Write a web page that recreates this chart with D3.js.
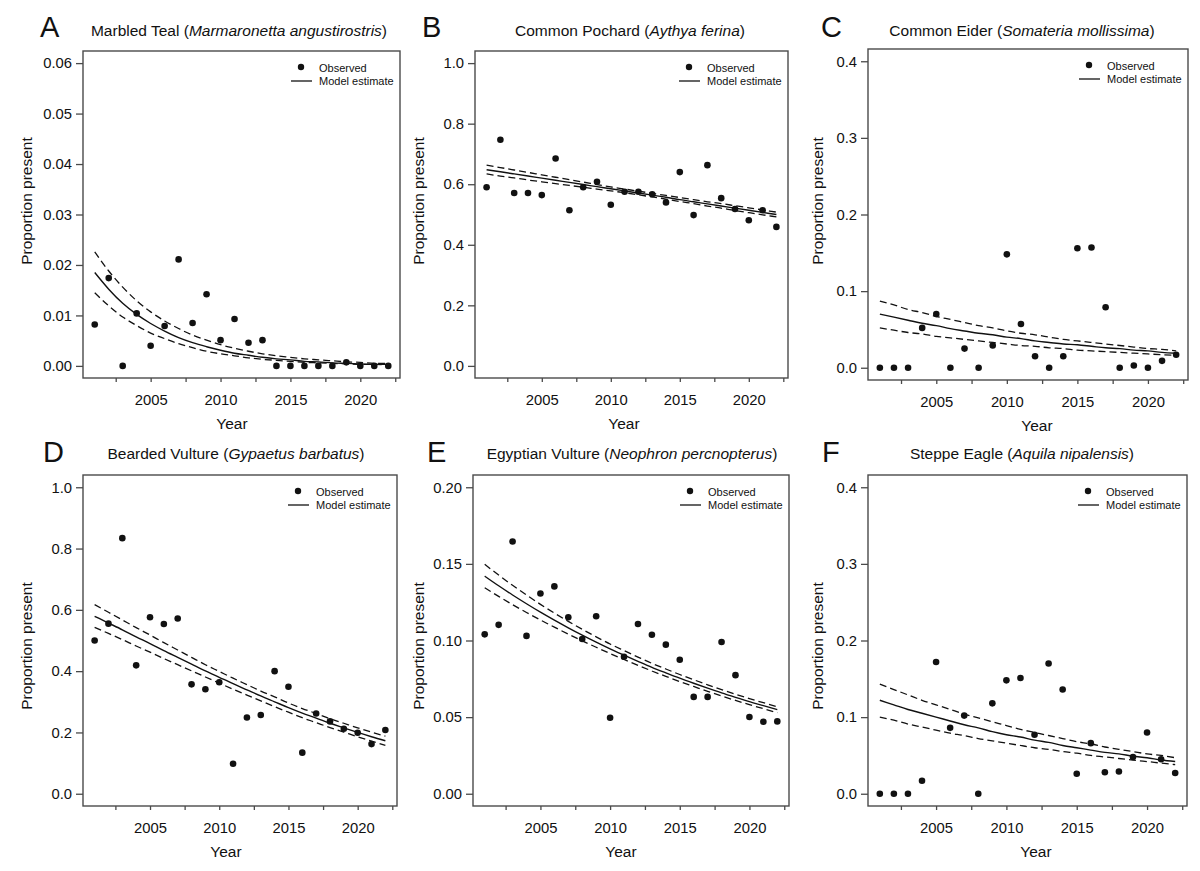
<!DOCTYPE html>
<html>
<head>
<meta charset="utf-8">
<script src="https://cdnjs.cloudflare.com/ajax/libs/d3/7.8.5/d3.min.js"></script>
<style>
  body { margin: 0; background: #fff; }
  svg { display: block; }
  text { font-family: 'Liberation Sans', Arial, sans-serif; fill: #111; }
</style>
</head>
<body>
<svg id="fig" width="1200" height="871"></svg>
<script>
const years = [2001, 2002, 2003, 2004, 2005, 2006, 2007, 2008, 2009, 2010, 2011,
  2012, 2013, 2014, 2015, 2016, 2017, 2018, 2019, 2020, 2021, 2022];

const panelLetters = ['A', 'B', 'C', 'D', 'E', 'F'];
const commonNames = ['Marbled Teal', 'Common Pochard', 'Common Eider', 'Bearded Vulture', 'Egyptian Vulture', 'Steppe Eagle'];
const latinNames = ['Marmaronetta angustirostris', 'Aythya ferina', 'Somateria mollissima', 'Gypaetus barbatus', 'Neophron percnopterus', 'Aquila nipalensis'];

const xTicks = [2002.5, 2005, 2007.5, 2010, 2012.5, 2015, 2017.5, 2020, 2022.5];
const xLabels = [2005, 2010, 2015, 2020];

const yTicksTeal = [0, 0.01, 0.02, 0.03, 0.04, 0.05, 0.06];
const yTicksUnit = [0, 0.2, 0.4, 0.6, 0.8, 1.0];
const yTicksPoint4 = [0, 0.1, 0.2, 0.3, 0.4];
const yTicksPoint2 = [0, 0.05, 0.10, 0.15, 0.20];

// A - Marbled Teal
const tealObs = [0.0082, 0.0174, 0, 0.0104, 0.0040, 0.0079, 0.0211, 0.0085, 0.0142, 0.0051, 0.0093,
  0.0046, 0.0051, 0, 0, 0, 0, 0, 0.0007, 0, 0, 0];
const tealFit = [0.0185, 0.0152, 0.0124, 0.0102, 0.0084, 0.0069, 0.0056, 0.0046, 0.0038, 0.0031, 0.0025,
  0.0021, 0.0017, 0.0014, 0.0012, 0.0009, 0.0008, 0.0006, 0.0005, 0.0004, 0.0003, 0.0003];
const tealHi = [0.0226, 0.0188, 0.0156, 0.0129, 0.0107, 0.0089, 0.0074, 0.0061, 0.0051, 0.0042, 0.0035,
  0.0029, 0.0024, 0.0020, 0.0017, 0.0014, 0.0012, 0.0010, 0.0008, 0.0007, 0.0005, 0.0005];
const tealLo = [0.0145, 0.0119, 0.0097, 0.0080, 0.0065, 0.0054, 0.0044, 0.0036, 0.0029, 0.0024, 0.0020,
  0.0016, 0.0013, 0.0011, 0.0009, 0.0007, 0.0006, 0.0005, 0.0004, 0.0003, 0.0003, 0.0002];

// B - Common Pochard
const pochardObs = [0.590, 0.747, 0.571, 0.571, 0.564, 0.685, 0.514, 0.590, 0.608, 0.532, 0.575,
  0.575, 0.567, 0.540, 0.640, 0.498, 0.663, 0.554, 0.518, 0.481, 0.514, 0.459];
const pochardFit = [0.648, 0.641, 0.634, 0.627, 0.620, 0.613, 0.606, 0.599, 0.592, 0.585, 0.578,
  0.571, 0.564, 0.557, 0.549, 0.542, 0.535, 0.528, 0.521, 0.514, 0.507, 0.500];
const pochardHi = [0.663, 0.655, 0.647, 0.639, 0.631, 0.623, 0.615, 0.607, 0.599, 0.591, 0.584,
  0.577, 0.570, 0.563, 0.556, 0.549, 0.542, 0.536, 0.529, 0.522, 0.515, 0.508];
const pochardLo = [0.634, 0.627, 0.621, 0.614, 0.608, 0.602, 0.596, 0.590, 0.584, 0.578, 0.572,
  0.565, 0.558, 0.551, 0.543, 0.536, 0.528, 0.521, 0.513, 0.506, 0.499, 0.492];

// C - Common Eider
const eiderObs = [0, 0, 0, 0.052, 0.070, 0, 0.025, 0, 0.029, 0.148, 0.057,
  0.015, 0, 0.015, 0.156, 0.157, 0.079, 0, 0.003, 0, 0.009, 0.017];
const eiderFit = [0.070, 0.066, 0.062, 0.058, 0.055, 0.051, 0.048, 0.045, 0.043, 0.040, 0.038,
  0.035, 0.033, 0.031, 0.030, 0.028, 0.026, 0.025, 0.023, 0.022, 0.020, 0.019];
const eiderHi = [0.087, 0.082, 0.076, 0.072, 0.067, 0.063, 0.059, 0.055, 0.052, 0.048, 0.045,
  0.043, 0.040, 0.037, 0.035, 0.033, 0.031, 0.029, 0.027, 0.025, 0.024, 0.022];
const eiderLo = [0.052, 0.049, 0.046, 0.044, 0.041, 0.039, 0.037, 0.035, 0.033, 0.031, 0.029,
  0.028, 0.026, 0.025, 0.023, 0.022, 0.021, 0.020, 0.019, 0.018, 0.017, 0.016];

// D - Bearded Vulture
const beardedObs = [0.500, 0.555, 0.834, 0.419, 0.576, 0.554, 0.572, 0.357, 0.341, 0.364, 0.098,
  0.249, 0.257, 0.400, 0.349, 0.134, 0.262, 0.236, 0.212, 0.199, 0.162, 0.208];
const beardedFit = [0.579, 0.557, 0.535, 0.512, 0.490, 0.467, 0.445, 0.423, 0.401, 0.380, 0.359,
  0.339, 0.319, 0.300, 0.281, 0.263, 0.247, 0.230, 0.215, 0.200, 0.186, 0.173];
const beardedHi = [0.617, 0.592, 0.567, 0.542, 0.518, 0.493, 0.469, 0.445, 0.421, 0.399, 0.377,
  0.356, 0.335, 0.316, 0.296, 0.278, 0.262, 0.245, 0.230, 0.215, 0.201, 0.188];
const beardedLo = [0.543, 0.523, 0.503, 0.482, 0.462, 0.441, 0.421, 0.401, 0.381, 0.361, 0.341,
  0.322, 0.303, 0.284, 0.266, 0.248, 0.232, 0.216, 0.201, 0.186, 0.172, 0.158];

// E - Egyptian Vulture
const egyptianObs = [0.1040, 0.1102, 0.1646, 0.1030, 0.1307, 0.1353, 0.1152, 0.1010, 0.1158, 0.0496, 0.0894,
  0.1108, 0.1038, 0.0973, 0.0874, 0.0632, 0.0632, 0.0990, 0.0774, 0.0501, 0.0470, 0.0472];
const egyptianFit = [0.1420, 0.1357, 0.1297, 0.1240, 0.1185, 0.1133, 0.1083, 0.1035, 0.0989, 0.0945, 0.0904,
  0.0864, 0.0825, 0.0789, 0.0754, 0.0721, 0.0689, 0.0658, 0.0629, 0.0601, 0.0575, 0.0549];
const egyptianHi = [0.1497, 0.1427, 0.1360, 0.1297, 0.1236, 0.1179, 0.1125, 0.1073, 0.1024, 0.0977, 0.0934,
  0.0892, 0.0851, 0.0814, 0.0778, 0.0744, 0.0711, 0.0679, 0.0649, 0.0621, 0.0594, 0.0568];
const egyptianLo = [0.1344, 0.1288, 0.1234, 0.1183, 0.1134, 0.1087, 0.1042, 0.0998, 0.0956, 0.0915, 0.0876,
  0.0838, 0.0801, 0.0766, 0.0732, 0.0700, 0.0668, 0.0638, 0.0609, 0.0581, 0.0555, 0.0529];

// F - Steppe Eagle
const steppeObs = [0, 0, 0, 0.017, 0.172, 0.086, 0.102, 0, 0.118, 0.148, 0.151,
  0.077, 0.170, 0.136, 0.026, 0.066, 0.028, 0.029, 0.048, 0.080, 0.045, 0.027];
const steppeFit = [0.122, 0.116, 0.110, 0.105, 0.100, 0.095, 0.090, 0.086, 0.081, 0.077, 0.074,
  0.070, 0.067, 0.063, 0.060, 0.057, 0.054, 0.052, 0.049, 0.047, 0.044, 0.042];
const steppeHi = [0.143, 0.136, 0.129, 0.122, 0.116, 0.110, 0.104, 0.099, 0.094, 0.089, 0.084,
  0.080, 0.076, 0.072, 0.068, 0.065, 0.061, 0.058, 0.055, 0.052, 0.050, 0.047];
const steppeLo = [0.100, 0.096, 0.091, 0.087, 0.083, 0.079, 0.076, 0.072, 0.069, 0.066, 0.063,
  0.060, 0.058, 0.055, 0.053, 0.050, 0.048, 0.046, 0.044, 0.042, 0.040, 0.038];

const series = [
  { obs: tealObs, fit: tealFit, lo: tealLo, hi: tealHi, yTicks: yTicksTeal, fmt: '.2f' },
  { obs: pochardObs, fit: pochardFit, lo: pochardLo, hi: pochardHi, yTicks: yTicksUnit, fmt: '.1f' },
  { obs: eiderObs, fit: eiderFit, lo: eiderLo, hi: eiderHi, yTicks: yTicksPoint4, fmt: '.1f' },
  { obs: beardedObs, fit: beardedFit, lo: beardedLo, hi: beardedHi, yTicks: yTicksUnit, fmt: '.1f' },
  { obs: egyptianObs, fit: egyptianFit, lo: egyptianLo, hi: egyptianHi, yTicks: yTicksPoint2, fmt: '.2f' },
  { obs: steppeObs, fit: steppeFit, lo: steppeLo, hi: steppeHi, yTicks: yTicksPoint4, fmt: '.1f' },
];

// page layout of each panel (box edges and label anchors)
const layout = [
  { left: 83, right: 400, top: 51, bottom: 378, letterX: 40, titleX: 239, ylabX: 31.5, yearX: 232 },
  { left: 475, right: 788, top: 51, bottom: 378, letterX: 422, titleX: 630, ylabX: 424, yearX: 624 },
  { left: 868, right: 1188, top: 49, bottom: 380, letterX: 821, titleX: 1022, ylabX: 823, yearX: 1037 },
  { left: 83, right: 397, top: 475, bottom: 806, letterX: 43, titleX: 236, ylabX: 31.5, yearX: 226 },
  { left: 473, right: 789, top: 475, bottom: 806, letterX: 427, titleX: 632, ylabX: 424, yearX: 621 },
  { left: 868, right: 1187, top: 475, bottom: 806, letterX: 822, titleX: 1022, ylabX: 823, yearX: 1036 },
];
const rowText = [
  { letterY: 37, titleY: 36, ylabY: 201 },
  { letterY: 462, titleY: 459, ylabY: 646 },
];

const svg = d3.select('#fig');
const ink = '#111';
const frame = '#4a4a4a';

function pad(lo, hi) {
  const r = hi - lo;
  return [lo - 0.04 * r, hi + 0.04 * r];
}

series.forEach((s, i) => {
  const L = layout[i];
  const R = rowText[i < 3 ? 0 : 1];
  const g = svg.append('g');

  const x = d3.scaleLinear().domain(pad(years[0], years[years.length - 1])).range([L.left, L.right]);
  const y = d3.scaleLinear().domain(pad(0, d3.max(s.yTicks))).range([L.bottom, L.top]);

  // axes
  const yAxis = g.append('g').attr('transform', `translate(${L.left},0)`)
    .call(d3.axisLeft(y).tickValues(s.yTicks).tickSize(7).tickPadding(4).tickFormat(d3.format(s.fmt)));
  const xAxis = g.append('g').attr('transform', `translate(0,${L.bottom})`)
    .call(d3.axisBottom(x).tickValues(xTicks).tickSize(4).tickPadding(12.5)
      .tickFormat(d => xLabels.includes(d) ? d : ''));
  [yAxis, xAxis].forEach(a => {
    a.select('.domain').remove();
    a.selectAll('.tick line').attr('stroke', frame).attr('stroke-width', 1.3);
    a.selectAll('.tick text').attr('font-size', 14.8).attr('fill', '#111')
      .attr('font-family', "'Liberation Sans', Arial, sans-serif");
  });

  // frame
  g.append('rect')
    .attr('x', L.left).attr('y', L.top)
    .attr('width', L.right - L.left).attr('height', L.bottom - L.top)
    .attr('fill', 'none').attr('stroke', frame).attr('stroke-width', 1.4);

  // model estimate and confidence limits
  const line = arr => d3.line().x((d, k) => x(years[k])).y(d => y(d)).curve(d3.curveMonotoneX)(arr);
  [s.hi, s.lo].forEach(arr => {
    g.append('path').attr('d', line(arr)).attr('fill', 'none')
      .attr('stroke', ink).attr('stroke-width', 1.3).attr('stroke-dasharray', '7,4');
  });
  g.append('path').attr('d', line(s.fit)).attr('fill', 'none')
    .attr('stroke', ink).attr('stroke-width', 1.4);

  // observed points
  g.append('g').selectAll('circle').data(s.obs).join('circle')
    .attr('cx', (d, k) => x(years[k])).attr('cy', d => y(d)).attr('r', 3.3).attr('fill', ink);

  // legend
  const lg = g.append('g').attr('transform', `translate(${L.right},${L.top})`);
  lg.append('circle').attr('cx', -99).attr('cy', 16).attr('r', 3.2).attr('fill', ink);
  lg.append('line').attr('x1', -109).attr('x2', -88).attr('y1', 30).attr('y2', 30)
    .attr('stroke', ink).attr('stroke-width', 1.3);
  lg.append('text').attr('x', -81).attr('y', 20.5).attr('font-size', 11).text('Observed');
  lg.append('text').attr('x', -81).attr('y', 34).attr('font-size', 11).text('Model estimate');

  // panel letter and title
  g.append('text').attr('x', L.letterX).attr('y', R.letterY)
    .attr('font-size', 29).text(panelLetters[i]);
  const t = g.append('text').attr('x', L.titleX).attr('y', R.titleY)
    .attr('text-anchor', 'middle').attr('font-size', 15.5);
  t.append('tspan').text(commonNames[i] + ' (');
  t.append('tspan').attr('font-style', 'italic').text(latinNames[i]);
  t.append('tspan').text(')');

  // axis titles
  g.append('text').attr('transform', `translate(${L.ylabX},${R.ylabY}) rotate(-90)`)
    .attr('text-anchor', 'middle').attr('font-size', 15.5).text('Proportion present');
  g.append('text').attr('x', L.yearX).attr('y', L.bottom + 51)
    .attr('text-anchor', 'middle').attr('font-size', 15.5).text('Year');
});
</script>
</body>
</html>
